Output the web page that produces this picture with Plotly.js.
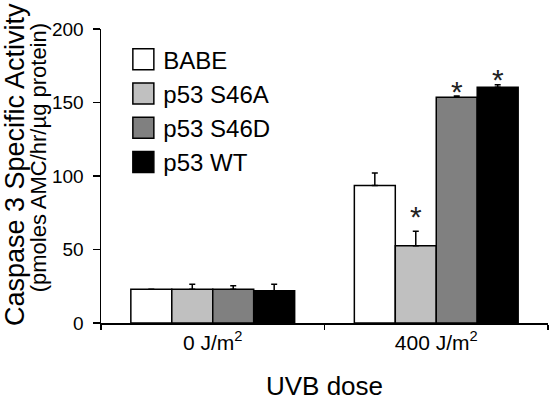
<!DOCTYPE html>
<html>
<head>
<meta charset="utf-8">
<script src="https://cdn.plot.ly/plotly-3.0.1.min.js"></script>
<style>
  html, body { margin: 0; padding: 0; background: #fff; }
  #chart { width: 550px; height: 402px; }
</style>
</head>
<body>
<div id="chart"></div>
<script>
// ---- data ----
const categories = ['0 J/m<sup>2</sup>', '400 J/m<sup>2</sup>'];
const seriesNames = ['BABE', 'p53 S46A', 'p53 S46D', 'p53 WT'];

const babeValues = [23, 93.5];
const babeErrors = [0, 8.5];
const s46aValues = [23, 52.5];
const s46aErrors = [3.4, 10];
const s46dValues = [23, 153.5];
const s46dErrors = [2.3, 1];
const wtValues   = [22, 160.3];
const wtErrors   = [4.3, 1.7];

// significance markers (asterisks) and their heights, in data units
const s46aStarY = [null, 75.5];
const s46dStarY = [null, 160.5];
const wtStarY   = [null, 168.7];

const yTickValues = [0, 50, 100, 150, 200];

// ---- styling ----
const fillColors = ['#ffffff', '#c0c0c0', '#808080', '#000000'];
const FONT = '"Liberation Sans", Arial, Helvetica, sans-serif';
const bargap = 0.267;

const valueSets = [babeValues, s46aValues, s46dValues, wtValues];
const errorSets = [babeErrors, s46aErrors, s46dErrors, wtErrors];
const starSets  = [[null, null], s46aStarY, s46dStarY, wtStarY];

const traces = seriesNames.map((name, i) => ({
  type: 'bar',
  name: name,
  legendgroup: 'g' + i,
  x: categories,
  y: valueSets[i],
  marker: { color: fillColors[i], line: { color: '#000', width: 1.5 } },
  error_y: {
    type: 'data', symmetric: false,
    array: errorSets[i],
    arrayminus: errorSets[i].map(() => 0),
    color: '#000', thickness: 1.5, width: 3
  },
  hoverinfo: 'x+y+name'
}));

// asterisk annotations placed via the category axis (index + group offset)
const annotations = [];
const nSeries = seriesNames.length;
const barWidthCat = (1 - bargap) / nSeries;
starSets.forEach((stars, i) => {
  stars.forEach((sy, c) => {
    if (sy === null) return;
    annotations.push({
      xref: 'x', yref: 'y',
      x: c + (i - (nSeries - 1) / 2) * barWidthCat,
      y: sy,
      text: '*', showarrow: false,
      yanchor: 'middle', yshift: -4,
      font: { family: FONT, size: 30, color: '#222' }
    });
  });
});

const NB = '\u00a0';
const layout = {
  width: 550, height: 402,
  margin: { l: 101, r: 2, t: 29, b: 79 },
  paper_bgcolor: '#fff', plot_bgcolor: '#fff',
  font: { family: FONT, color: '#000' },
  barmode: 'group',
  bargap: bargap,
  bargroupgap: 0,
  showlegend: true,
  legend: {
    x: 0.05, xanchor: 'left',
    y: 0.972, yanchor: 'top',
    traceorder: 'grouped',
    tracegroupgap: 0,
    font: { family: FONT, size: 24, color: '#000' },
    bgcolor: 'rgba(0,0,0,0)'
  },
  xaxis: {
    type: 'category',
    range: [-0.5, 1.5],
    showline: true, linecolor: '#000', linewidth: 1.5,
    ticks: 'outside', tickson: 'boundaries', ticklen: 5, tickwidth: 1.5, tickcolor: '#000',
    tickfont: { family: FONT, size: 21, color: '#000' },
    showgrid: false, zeroline: false,
    title: { text: 'UVB dose', font: { family: FONT, size: 26, color: '#000' }, standoff: 24 }
  },
  yaxis: {
    range: [0, 200],
    tickvals: yTickValues,
    showline: true, linecolor: '#000', linewidth: 1.5,
    ticks: 'outside', ticklen: 7, tickwidth: 1.5, tickcolor: '#000',
    ticklabelstandoff: 5,
    tickfont: { family: FONT, size: 19, color: '#000' },
    showgrid: false, zeroline: false,
    title: {
      text: '<span style="font-size:27px">' + NB.repeat(3) + 'Caspase 3 Specific Activity</span><br>' +
            '<span style="font-size:22px">' + NB.repeat(6) + '(pmoles AMC/hr/µg protein)</span>',
      font: { family: FONT, size: 17, color: '#000' },
      standoff: 2
    }
  },
  annotations: annotations
};

Plotly.newPlot('chart', traces, layout, { displayModeBar: false, staticPlot: true }).then(gd => {
  // enlarge the legend swatches to match the reference's boxes
  gd.querySelectorAll('.legend .legendpoints path').forEach(p => {
    const t = p.getAttribute('transform') || '';
    p.setAttribute('transform', (t + ' scale(1.75)').trim());
    p.style.strokeWidth = '0.85px';
  });
});
</script>
</body>
</html>
